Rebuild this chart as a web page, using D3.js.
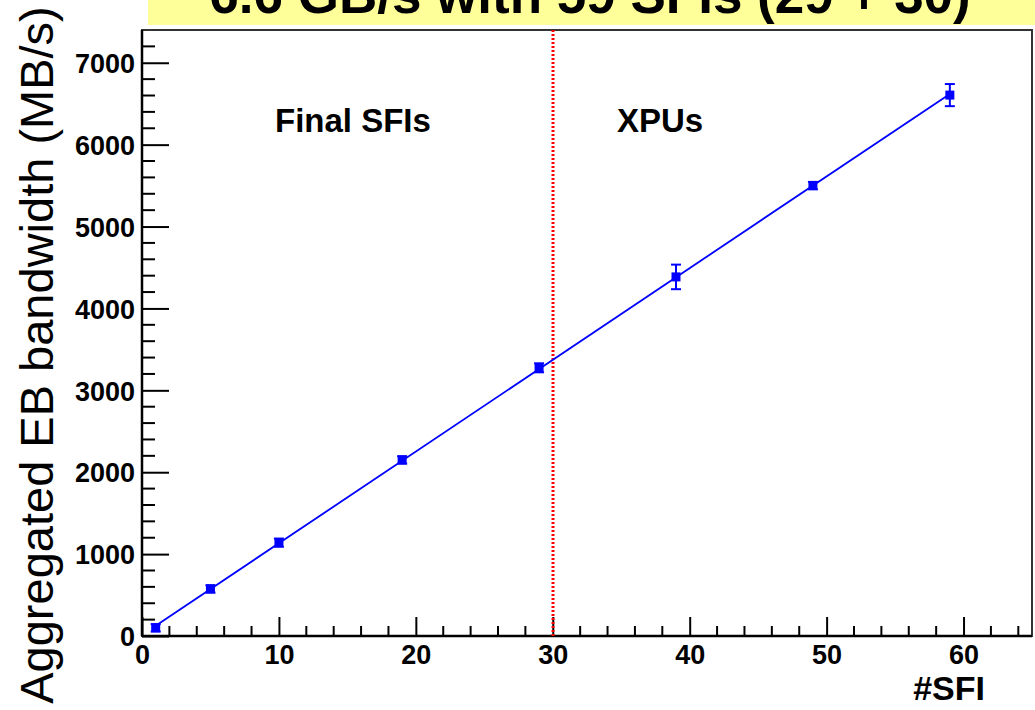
<!DOCTYPE html>
<html>
<head>
<meta charset="utf-8">
<script src="https://cdn.jsdelivr.net/npm/d3@7"></script>
<style>
  html, body { margin: 0; padding: 0; background: #fff; }
  svg { display: block; }
  text { font-family: "Liberation Sans", Arial, sans-serif; }
</style>
</head>
<body>
<svg id="chart" width="1035" height="710"></svg>
<script>
// ---- data ----
const nSFI      = [1, 5, 10, 19, 29, 39, 49, 59];
const bandwidth = [100, 575, 1140, 2150, 3275, 4385, 5500, 6605];
const errors    = [45, 45, 50, 45, 55, 150, 45, 135];
const xTicks    = [0, 10, 20, 30, 40, 50, 60];
const yTicks    = [0, 1000, 2000, 3000, 4000, 5000, 6000, 7000];
const titleText = "6.6 GB/s with 59 SFIs (29 + 30)";
const yLabel    = "Aggregated EB bandwidth (MB/s)";
const xLabel    = "#SFI";
const regionLabels = ["Final SFIs", "XPUs"];
const boundary  = 30;

// ---- layout ----
const L = 142, R = 1032, T = 30, B = 636;
const svg = d3.select("#chart");
const x = d3.scaleLinear().domain([0, 65]).range([L, R]);
const y = d3.scaleLinear().domain([0, 7400]).range([B, T]);

// title box
svg.append("rect").attr("x", 148).attr("y", 0).attr("width", 1035 - 148).attr("height", 25).attr("fill", "#ffff99");
svg.append("text").attr("x", 590).attr("y", 13).attr("text-anchor", "middle")
  .attr("font-size", 53).attr("font-weight", "bold").attr("fill", "#000").text(titleText);

// frame
svg.append("rect").attr("x", L).attr("y", T).attr("width", R - L).attr("height", B - T)
  .attr("fill", "none").attr("stroke", "#333").attr("stroke-width", 2);

// x axis ticks (inward, upward)
const xAxis = d3.axisBottom(x).tickValues(xTicks).tickSize(-19).tickFormat(d3.format("d"));
const gx = svg.append("g").attr("transform", `translate(0,${B})`).call(xAxis);
gx.select(".domain").remove();
gx.selectAll(".tick line").attr("stroke", "#000").attr("stroke-width", 2);
gx.selectAll(".tick text").attr("font-size", 27).attr("font-weight", "bold").attr("fill", "#000")
  .attr("font-family", "Liberation Sans, Arial, sans-serif").attr("dy", null).attr("y", 28);
const xMinor = d3.range(2, 65, 2).filter(v => v % 10 !== 0);
svg.append("g").selectAll("line").data(xMinor).join("line")
  .attr("x1", d => x(d)).attr("x2", d => x(d)).attr("y1", B).attr("y2", B - 10)
  .attr("stroke", "#000").attr("stroke-width", 2);

// y axis ticks (inward, rightward)
const yAxis = d3.axisLeft(y).tickValues(yTicks).tickSize(-27).tickFormat(d3.format("d"));
const gy = svg.append("g").attr("transform", `translate(${L},0)`).call(yAxis);
gy.select(".domain").remove();
gy.selectAll(".tick line").attr("stroke", "#000").attr("stroke-width", 2);
gy.selectAll(".tick text").attr("font-size", 27).attr("font-weight", "bold").attr("fill", "#000")
  .attr("font-family", "Liberation Sans, Arial, sans-serif").attr("x", -7).attr("dy", "0.36em");
const yMinor = d3.range(200, 7400, 200).filter(v => v % 1000 !== 0);
svg.append("g").selectAll("line").data(yMinor).join("line")
  .attr("x1", L).attr("x2", L + 13).attr("y1", d => y(d)).attr("y2", d => y(d))
  .attr("stroke", "#000").attr("stroke-width", 2);

// axis lines
svg.append("line").attr("x1", L).attr("x2", L).attr("y1", T).attr("y2", B).attr("stroke", "#000").attr("stroke-width", 2.5);
svg.append("line").attr("x1", L).attr("x2", R).attr("y1", B).attr("y2", B).attr("stroke", "#000").attr("stroke-width", 2.5);

// labels
svg.append("text").attr("transform", `translate(53,355) rotate(-90)`).attr("text-anchor", "middle")
  .attr("font-size", 47).attr("fill", "#000").text(yLabel);
svg.append("text").attr("x", 985).attr("y", 700).attr("text-anchor", "end")
  .attr("font-size", 34).attr("font-weight", "bold").attr("fill", "#000").text(xLabel);

// region labels
svg.append("text").attr("x", 275).attr("y", 132).attr("font-size", 33).attr("font-weight", "bold").text(regionLabels[0]);
svg.append("text").attr("x", 617).attr("y", 132).attr("font-size", 33).attr("font-weight", "bold").text(regionLabels[1]);

// boundary
svg.append("line").attr("x1", Math.round(x(boundary))).attr("x2", Math.round(x(boundary))).attr("y1", T).attr("y2", B)
  .attr("stroke", "#ff0000").attr("stroke-width", 3).attr("stroke-dasharray", "2,2");

// linear fit from data
const n = nSFI.length;
const mx = d3.mean(nSFI), my = d3.mean(bandwidth);
let sxy = 0, sxx = 0;
for (let i = 0; i < n; i++) { sxy += (nSFI[i] - mx) * (bandwidth[i] - my); sxx += (nSFI[i] - mx) ** 2; }
const slope = sxy / sxx, icpt = my - slope * mx;
const x0 = d3.min(nSFI), x1 = d3.max(nSFI);
svg.append("line").attr("x1", x(x0)).attr("y1", y(icpt + slope * x0))
  .attr("x2", x(x1)).attr("y2", y(icpt + slope * x1))
  .attr("stroke", "#0000ff").attr("stroke-width", 1.8);

// points with error bars
const pts = nSFI.map((v, i) => ({x: v, y: bandwidth[i], e: errors[i]}));
const g = svg.append("g").attr("fill", "#0000ff").attr("stroke", "#0000ff");
g.selectAll("line.eb").data(pts).join("line").attr("class", "eb")
  .attr("x1", d => x(d.x)).attr("x2", d => x(d.x)).attr("y1", d => y(d.y - d.e)).attr("y2", d => y(d.y + d.e))
  .attr("stroke-width", 2);
g.selectAll("line.ct").data(pts).join("line").attr("class", "ct")
  .attr("x1", d => x(d.x) - 5).attr("x2", d => x(d.x) + 5).attr("y1", d => y(d.y + d.e)).attr("y2", d => y(d.y + d.e))
  .attr("stroke-width", 2);
g.selectAll("line.cb").data(pts).join("line").attr("class", "cb")
  .attr("x1", d => x(d.x) - 5).attr("x2", d => x(d.x) + 5).attr("y1", d => y(d.y - d.e)).attr("y2", d => y(d.y - d.e))
  .attr("stroke-width", 2);
g.selectAll("rect").data(pts).join("rect")
  .attr("x", d => x(d.x) - 4.5).attr("y", d => y(d.y) - 4.5).attr("width", 9).attr("height", 9).attr("stroke", "none");
</script>
</body>
</html>
